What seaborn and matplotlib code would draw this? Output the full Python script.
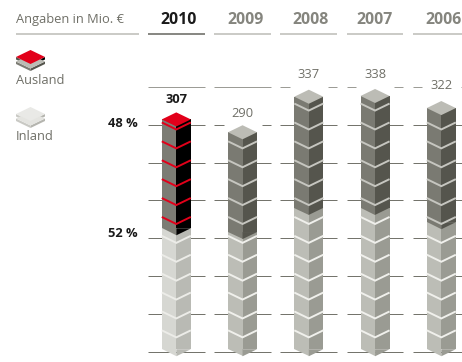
import matplotlib
matplotlib.use("Agg")
import matplotlib.pyplot as plt
import numpy as np
import pandas as pd
import seaborn as sns

# Revenue split by year, in Mio. EUR
years = ["2010", "2009", "2008", "2007", "2006"]
totals = [307, 290, 337, 338, 322]
inland = [163, 158, 190, 190, 171]
grid_values = [0, 50, 100, 150, 200, 250, 300, 350]

BASE = 3          # lower edge of the stack
BLOCK = 25        # height of one block
HALF_W = 0.219    # half width of a column in category units
RISE = 9.3        # perspective drop of a face edge, in Mio.

WIDTH, HEIGHT = 462, 362
PX_X = 66.25      # pixels per category
PX_Y = 0.756      # pixels per Mio.

HIGHLIGHT = dict(top="#e2001a", dark_l="#7c7c74", dark_r="#000000", light_l="#d6d7d2",
                 light_r="#b9bab4", chev_dark="#e2001a", chev_light="#ecece8")
REGULAR = dict(top="#bcbcb5", dark_l="#7a7a72", dark_r="#55554d", light_l="#bcbdb6",
               light_r="#9a9b93", chev_dark="#c6c6c0", chev_light="#f0f0ec")

sns.set_theme(style="white", rc={"font.family": ["Open Sans", "DejaVu Sans"]})
fig = plt.figure(figsize=(WIDTH / 100, HEIGHT / 100), dpi=100)
ax = fig.add_axes([0, 0, 1, 1])

TEXT = "#6f6f67"

rows = []
for y, t, i in zip(years, totals, inland):
    for side in ("l", "r"):
        rows.append(dict(year=y, side=side, total=t - BASE, inland=i - BASE))
df = pd.DataFrame(rows)

x_to_px = lambda px: (px - 176.3) / PX_X
y_to_val = lambda py: (351.5 - py) / PX_Y

sns.barplot(df, x="year", y="total", hue="side", order=years, hue_order=["l", "r"], width=2 * HALF_W,
            bottom=BASE, dodge=True, legend=False, ax=ax, linewidth=0, gap=0, zorder=3)
sns.barplot(df, x="year", y="inland", hue="side", order=years, hue_order=["l", "r"], width=2 * HALF_W,
            bottom=BASE, dodge=True, legend=False, ax=ax, linewidth=0, gap=0, zorder=3.1)

for k, container in enumerate(ax.containers):
    for j, bar in enumerate(container):
        pal = HIGHLIGHT if j == 0 else REGULAR
        part = "dark" if k < 2 else "light"
        bar.set_facecolor(pal[f"{part}_{'lr'[k % 2]}"])

ax.set_xlim(x_to_px(0), x_to_px(WIDTH))
ax.set_ylim(y_to_val(362), y_to_val(0))
ax.axis("off")


def chevron(x, v, **kw):
    ax.plot([x - HALF_W, x, x + HALF_W], [v, v - RISE, v], solid_joinstyle="miter", solid_capstyle="butt", **kw)


for x, (t, i) in enumerate(zip(totals, inland)):
    pal = HIGHLIGHT if x == 0 else REGULAR
    # pointed lower ends of the faces
    ax.fill([x - HALF_W, x, x], [BASE, BASE, BASE - RISE], color=pal["light_l"], lw=0, zorder=3.2)
    ax.fill([x, x + HALF_W, x], [BASE, BASE, BASE - RISE], color=pal["light_r"], lw=0, zorder=3.2)
    # dark section points down into the light one
    ax.fill([x - HALF_W, x, x], [i, i, i - RISE], color=pal["dark_l"], lw=0, zorder=3.2)
    ax.fill([x, x + HALF_W, x], [i, i, i - RISE], color=pal["dark_r"], lw=0, zorder=3.2)
    # block joints
    for c in np.arange(BASE + BLOCK, t, BLOCK):
        colour = pal["chev_dark"] if c > i else pal["chev_light"]
        chevron(x, c, color=colour, lw=1.4, zorder=3.4)
    # top face of the column
    ax.fill([x - HALF_W, x, x + HALF_W, x], [t, t + RISE, t, t - RISE], color=pal["top"], lw=0, zorder=3.5)


def hline(px0, px1, value, color, lw=0.72):
    ax.plot([x_to_px(px0), x_to_px(px1)], [value, value], color=color, lw=lw, zorder=1, solid_capstyle="butt")


spans = [(148, 205), (214, 271), (280, 337), (347, 403), (413, 462)]
gaps = {(1, 300): (224, 262), (2, 350): (290, 328), (3, 350): (356, 394), (4, 350): (422, 461)}
for idx, (a, b) in enumerate(spans):
    for g in grid_values:
        shade = "#9c9c96" if g == 350 else "#74746c"
        if (idx, g) in gaps:
            g0, g1 = gaps[(idx, g)]
            hline(a, g0, g, shade)
            hline(g1, b, g, shade)
        else:
            hline(a, b, g, shade)

# Header row
header_v = y_to_val(33.5)
hline(16, 139, header_v, "#bcbcb7", 1.1)
for idx, (a, b) in enumerate(spans):
    hline(a, b, header_v, "#66665f" if idx == 0 else "#bcbcb7", 1.1)
ax.text(x_to_px(16), y_to_val(20), "Angaben in Mio. €", fontsize=9.3, color=TEXT, va="center", ha="left")
year_px = [178.5, 245.5, 311, 375, 444]
for x, (y, px) in enumerate(zip(years, year_px)):
    ax.text(x_to_px(px), y_to_val(19.5), y, fontsize=11.4, fontweight="bold", ha="center", va="center",
            color="#1a1a1a" if x == 0 else "#85857e")

# Value labels
label_px = [99.5, 113.5, 75, 75, 85.5]
for x, (t, py) in enumerate(zip(totals, label_px)):
    ax.text(x, y_to_val(py), str(t), fontsize=9.3,
            fontweight="bold" if x == 0 else "normal", ha="center", va="center",
            color="#1a1a1a" if x == 0 else TEXT, zorder=6)

ax.text(x_to_px(137.5), y_to_val(123.5), "48 %", fontsize=9.3, fontweight="bold", ha="right", va="center", color="#1a1a1a")
ax.text(x_to_px(137.5), y_to_val(233.5), "52 %", fontsize=9.3, fontweight="bold", ha="right", va="center", color="#1a1a1a")

# Legend labels and swatches
ax.text(x_to_px(16), y_to_val(80.5), "Ausland", fontsize=9.3, color=TEXT, va="center")
ax.text(x_to_px(16), y_to_val(136.5), "Inland", fontsize=9.3, color=TEXT, va="center")


def swatch(cx_px, cy_px, top, left, right, lower_top, lower_left, lower_right):
    hw, hh, thick = 14.5, 7, 2.5
    cx = x_to_px(cx_px)
    to_x = lambda dx: cx + dx / PX_X
    for off, l, r, tp in ((4.5, lower_left, lower_right, lower_top), (0, left, right, top)):
        c = cy_px + off
        ax.fill([to_x(-hw), to_x(0), to_x(0), to_x(-hw)],
                [y_to_val(c), y_to_val(c + hh), y_to_val(c + hh + thick), y_to_val(c + thick)], color=l, lw=0, zorder=4)
        ax.fill([to_x(hw), to_x(0), to_x(0), to_x(hw)],
                [y_to_val(c), y_to_val(c + hh), y_to_val(c + hh + thick), y_to_val(c + thick)], color=r, lw=0, zorder=4)
        ax.fill([to_x(-hw), to_x(0), to_x(hw), to_x(0)],
                [y_to_val(c), y_to_val(c - hh), y_to_val(c), y_to_val(c + hh)], color=tp, lw=0, zorder=4.1)


swatch(30.5, 57, "#e2001a", "#55554d", "#000000", "#bcbcb5", "#7c7c74", "#55554d")
swatch(30.5, 114, "#e9e9e6", "#c9c9c4", "#b5b5af", "#e4e4e0", "#c9c9c4", "#b5b5af")

fig.savefig("out.png", dpi=100)
